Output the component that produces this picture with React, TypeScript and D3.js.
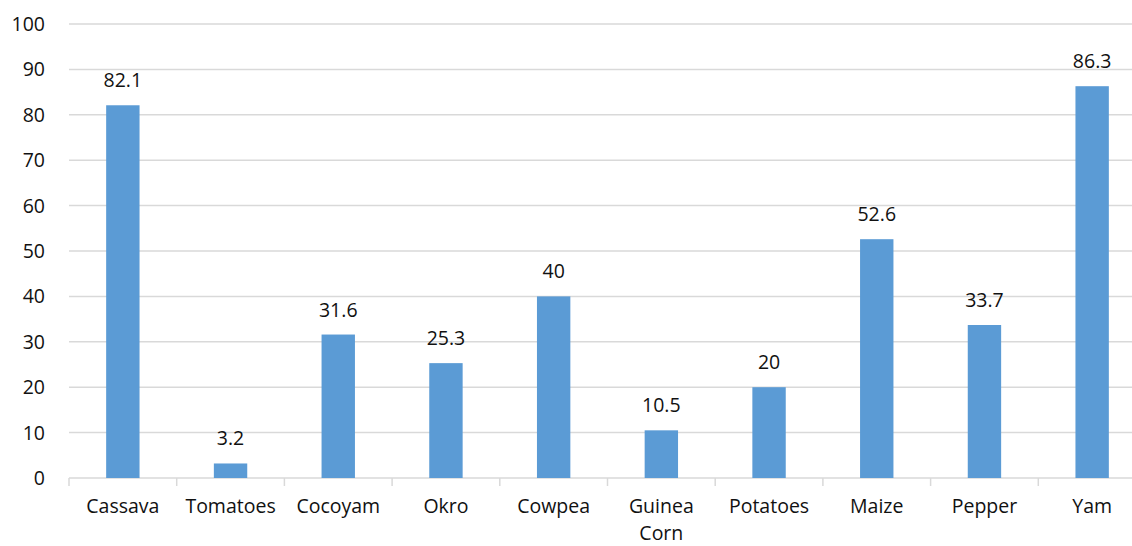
import React from "react";
import * as d3 from "d3";

const categories = ["Cassava", "Tomatoes", "Cocoyam", "Okro", "Cowpea", "Guinea Corn", "Potatoes", "Maize", "Pepper", "Yam"];
const values = [82.1, 3.2, 31.6, 25.3, 40, 10.5, 20, 52.6, 33.7, 86.3];
const yTicks = [0, 10, 20, 30, 40, 50, 60, 70, 80, 90, 100];

const W = 1132;
const H = 546;
const left = 69;
const bandW = 107.7;
const top = 24;
const bottom = 478;
const font = "'Open Sans', sans-serif";
const fs = 19.5;

export default function App() {
  const x = d3
    .scaleBand<string>()
    .domain(categories)
    .range([left, left + bandW * categories.length])
    .paddingInner(0.69)
    .paddingOuter(0.345);
  const y = d3.scaleLinear().domain([0, 100]).range([bottom, top]);
  const bandEdges = d3.range(categories.length + 1).map((i) => left + i * bandW);

  return (
    <svg width={W} height={H} style={{ position: "absolute", left: 0, top: 0, background: "#fff" }}>
      {yTicks.map((t) => (
        <g key={t}>
          {t > 0 && <line x1={left} x2={W + 50} y1={y(t)} y2={y(t)} stroke="#d9d9d9" strokeWidth={1.5} />}
          <text x={45} y={y(t)} dy="0.36em" textAnchor="end" fontFamily={font} fontSize={fs} fill="#111">
            {t}
          </text>
        </g>
      ))}
      <line x1={left} x2={W + 50} y1={bottom} y2={bottom} stroke="#d9d9d9" strokeWidth={1.5} />
      {bandEdges.map((e, i) => (
        <line key={i} x1={e} x2={e} y1={bottom} y2={bottom + 8} stroke="#d9d9d9" strokeWidth={1.5} />
      ))}
      {categories.map((c, i) => {
        const v = values[i];
        const bx = x(c)!;
        const cx = bx + x.bandwidth() / 2;
        const words = c.split(" ");
        return (
          <g key={c}>
            <rect x={bx} y={y(v)} width={x.bandwidth()} height={bottom - y(v)} fill="#5b9bd5" />
            <text x={cx} y={y(v) - 18} textAnchor="middle" fontFamily={font} fontSize={fs} fill="#111">
              {v}
            </text>
            {words.map((w, k) => (
              <text key={k} x={cx} y={513 + k * 27} textAnchor="middle" fontFamily={font} fontSize={fs} fill="#111">
                {w}
              </text>
            ))}
          </g>
        );
      })}
    </svg>
  );
}
